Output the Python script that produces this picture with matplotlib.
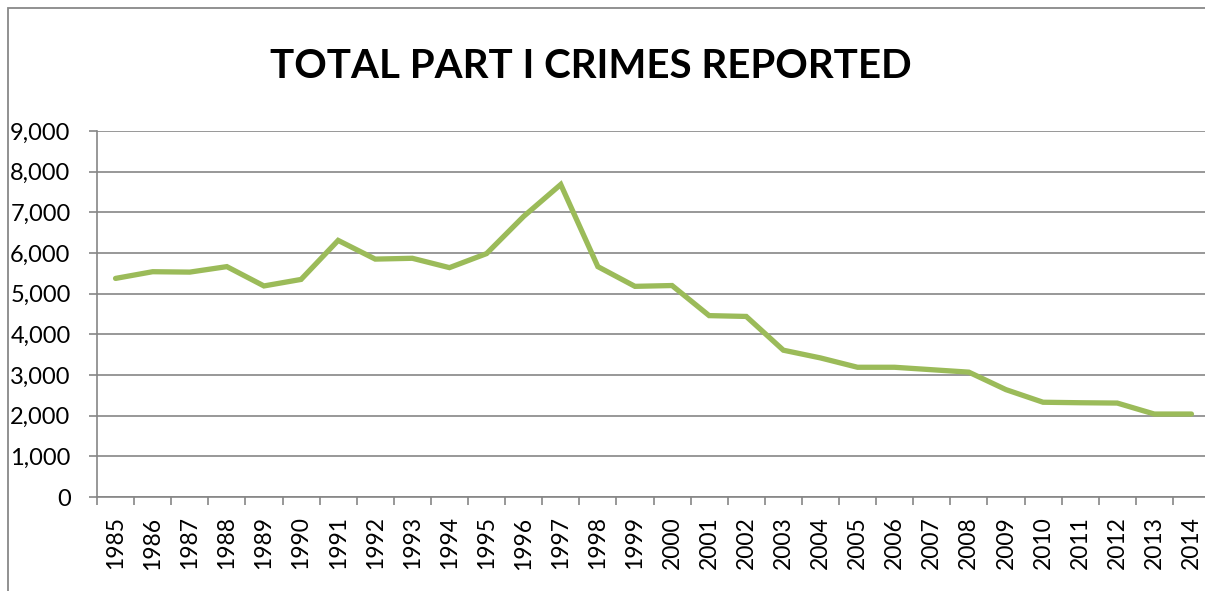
import numpy as np
import matplotlib.pyplot as plt
from matplotlib.patches import Rectangle

# yearly totals
years = [str(y) for y in range(1985, 2015)]
crimes = [5375, 5540, 5530, 5665, 5190, 5350, 6310, 5850, 5870, 5640,
          5985, 6900, 7685, 5665, 5180, 5200, 4460, 4440, 3610, 3420,
          3190, 3190, 3130, 3070, 2640, 2330, 2318, 2310, 2040, 2040]
yticks = [0, 1000, 2000, 3000, 4000, 5000, 6000, 7000, 8000, 9000]

W, H = 1205, 591
plt.rcParams['font.family'] = ['Lato', 'DejaVu Sans']
fig = plt.figure(figsize=(W / 100, H / 100), dpi=100)

# outer chart border (right and bottom edges fall off the picture)
fig.patches.append(Rectangle((8 / W, -0.1), 1.2, 1 - 8 / H + 0.1,
                             transform=fig.transFigure, fill=False,
                             edgecolor='#888888', linewidth=1.3))

gray = '#868686'
ax = fig.add_axes([97 / W, 1 - 497 / H, (1210 - 97) / W, (497 - 131) / H])
x = np.arange(len(years))
ax.plot(x, crimes, color='#9BBB59', linewidth=3.8, solid_capstyle='round',
        solid_joinstyle='miter')

ax.set_ylim(0, 9000)
ax.set_xlim(-0.5, len(years) - 0.5)
ax.set_yticks(yticks)
ax.set_yticklabels([f"{v:,}" for v in yticks])
ax.yaxis.grid(True, color=gray, linewidth=1.2)
ax.set_axisbelow(True)

ax.set_xticks(np.arange(-0.5, len(years)), labels=[])
ax.set_xticks(x, minor=True)
ax.set_xticklabels(years, minor=True, rotation=90)
ax.tick_params(axis='x', which='major', length=6, width=1.2, color=gray)
ax.tick_params(axis='x', which='minor', length=0, pad=14, labelsize=16.5)
ax.tick_params(axis='y', length=6, width=1.2, color=gray, pad=13,
               labelsize=17)

for s in ['top', 'right']:
    ax.spines[s].set_visible(False)
for s in ['left', 'bottom']:
    ax.spines[s].set_color(gray)
    ax.spines[s].set_linewidth(1.2)

fig.text(591 / W, 1 - 66 / H, 'TOTAL PART I CRIMES REPORTED',
         ha='center', va='center', fontsize=29, fontweight='bold')

fig.savefig('out.png', dpi=100)
